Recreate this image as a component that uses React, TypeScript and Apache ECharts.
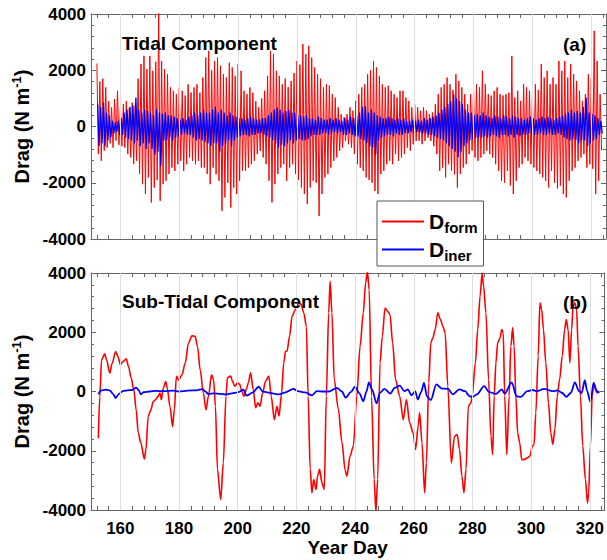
import React, { useEffect, useRef } from "react";
import * as echarts from "echarts";

// ---------- data ----------
const firstTidalDay = 152;
// tidal component: daily positive / negative extremes (N m^-1), days 152..323
const formHigh = [
  2240, 1600, 1700, 1390, 900, 680, 970, 1270, 700, 800,
  900, 650, 850, 750, 1700, 2220, 2510, 2040, 2510, 1980,
  2300, 4100, 2330, 2040, 1860, 1390, 1270, 1150, 1390, 1270,
  1100, 1500, 1210, 1390, 1500, 1200, 1740, 2450, 2690, 2000,
  2330, 2450, 2160, 1860, 1740, 2270, 2100, 1800, 2220, 1980,
  1270, 1150, 1390, 1200, 900, 680, 1000, 1270, 1800, 2690,
  2570, 1980, 1800, 1500, 1700, 1400, 1620, 1900, 2330, 2200,
  2930, 2570, 2870, 2450, 2100, 1860, 1700, 1390, 1500, 1450,
  1150, 1030, 680, 440, 330, 440, 680, 560, 910, 1150,
  1390, 1500, 1860, 2000, 2330, 2100, 1800, 1500, 1390, 1450,
  1270, 1150, 1030, 1270, 1270, 1030, 910, 680, 790, 680,
  560, 680, 560, 440, 500, 790, 1150, 1390, 1500, 1740,
  1500, 1300, 1860, 1620, 1390, 1150, 790, 1150, 1270, 1500,
  1400, 1980, 1500, 1150, 1100, 1270, 1390, 1150, 1100, 1150,
  1200, 2510, 1030, 1270, 910, 1500, 1390, 1270, 1150, 1500,
  1300, 2220, 1740, 1980, 1500, 1740, 1500, 2330, 1980, 2330,
  1740, 2220, 1860, 1620, 1270, 910, 1150, 1860, 1700, 3400,
  2330, 1150,
];
const formLow = [
  -980, -1220, -860, -750, -600, -750, -500, -650, -700, -750,
  -980, -1100, -1340, -1220, -1690, -2050, -2400, -1810, -2700, -2170,
  -1900, -2640, -2050, -1930, -1690, -1460, -1580, -1340, -1220, -1580,
  -1340, -1100, -1220, -1340, -1220, -1460, -1460, -1690, -2050, -1460,
  -1700, -1930, -3000, -2520, -2000, -2880, -2170, -2400, -1930, -1580,
  -1580, -1460, -1340, -1220, -980, -870, -1100, -1340, -1930, -2700,
  -2050, -1690, -1460, -1340, -1930, -1460, -1340, -1690, -1900, -2170,
  -2400, -2760, -2170, -1930, -2000, -3180, -2400, -1810, -1690, -1460,
  -1220, -1100, -860, -750, -510, -630, -750, -980, -1340, -1460,
  -1580, -1810, -1900, -2000, -2290, -2400, -1690, -1580, -1340, -1220,
  -1340, -980, -1220, -1100, -980, -750, -860, -630, -510, -510,
  -630, -510, -400, -510, -700, -980, -1580, -1460, -1810, -1340,
  -1580, -1700, -2170, -1690, -1460, -1340, -980, -860, -1100, -1220,
  -1100, -980, -860, -980, -1100, -1340, -1580, -1930, -2000, -1580,
  -2100, -2400, -1930, -1460, -1340, -1100, -1220, -1340, -1460, -1580,
  -1690, -1810, -1930, -2170, -1580, -2000, -2200, -2100, -2400, -2520,
  -1930, -1580, -1460, -1220, -1100, -980, -1460, -1340, -1500, -2400,
  -1930, -850,
];
const inerHigh = [
  790, 700, 850, 500, 400, 200, 150, 200, 300, 500,
  600, 700, 750, 1030, 600, 500, 600, 550, 500, 400,
  600, 500, 450, 500, 400, 400, 350, 300, 250, 300,
  250, 350, 400, 500, 400, 500, 600, 500, 500, 600,
  700, 500, 600, 500, 400, 500, 400, 350, 300, 300,
  250, 300, 350, 300, 250, 250, 300, 300, 400, 500,
  600, 680, 600, 500, 550, 600, 500, 500, 400, 400,
  350, 400, 300, 300, 250, 350, 300, 250, 250, 300,
  250, 300, 250, 200, 300, 250, 350, 300, 400, 500,
  700, 730, 500, 600, 500, 400, 350, 300, 300, 350,
  300, 250, 300, 250, 300, 200, 200, 250, 200, 250,
  200, 300, 250, 300, 350, 400, 500, 600, 700, 800,
  900, 1150, 1000, 900, 800, 600, 500, 500, 400, 450,
  400, 500, 400, 350, 300, 400, 350, 300, 400, 350,
  300, 400, 350, 300, 300, 250, 300, 350, 300, 250,
  300, 350, 300, 350, 300, 250, 300, 350, 400, 450,
  500, 600, 500, 550, 500, 700, 1030, 500, 450, 400,
  300, 200,
];
const inerLow = [
  -690, -600, -700, -500, -400, -250, -200, -300, -300, -400,
  -450, -500, -600, -500, -700, -600, -800, -600, -800, -1000,
  -900, -1400, -500, -500, -400, -500, -400, -350, -300, -250,
  -300, -300, -400, -500, -450, -500, -550, -600, -700, -600,
  -600, -900, -700, -600, -500, -700, -500, -400, -350, -300,
  -300, -350, -300, -300, -250, -250, -300, -350, -400, -500,
  -600, -750, -650, -700, -600, -500, -600, -500, -450, -500,
  -500, -450, -350, -300, -300, -300, -250, -250, -300, -250,
  -200, -250, -200, -300, -300, -250, -300, -350, -350, -450,
  -500, -600, -700, -750, -1000, -500, -400, -350, -300, -300,
  -350, -250, -300, -300, -250, -250, -200, -250, -200, -200,
  -250, -250, -300, -300, -350, -400, -450, -500, -600, -700,
  -800, -900, -1090, -900, -700, -600, -500, -450, -400, -400,
  -400, -350, -400, -350, -300, -350, -400, -300, -300, -350,
  -300, -400, -300, -350, -300, -300, -250, -300, -300, -300,
  -250, -300, -300, -250, -300, -300, -250, -300, -400, -450,
  -500, -450, -500, -600, -500, -500, -700, -600, -500, -450,
  -300, -250,
];

// sub-tidal component: [year day, drag]
const subForm = [
  [152.5, -1575], [153.0, -170], [153.6, 1070], [154.7, 1270], [155.3, 1070], [156.4, 620],
  [157.2, 950], [158.4, 1350], [159.2, 1180], [160.0, 900], [160.9, 1010], [162.0, 1100],
  [162.8, 840], [163.7, 450], [164.6, 55], [165.4, -620], [166.1, -1400], [167.0, -1740],
  [168.2, -2280], [168.7, -1970], [169.5, -840], [170.4, -620], [171.2, -340], [172.0, -280],
  [172.8, -170], [173.5, -55], [174.0, -280], [174.6, 110], [175.5, 340], [176.0, 110],
  [176.9, -500], [177.8, -1180], [178.4, -620], [179.1, 510], [179.9, 390], [181.0, 560],
  [182.1, 950], [183.2, 1630], [184.4, 1880], [185.5, 1860], [186.3, 1520], [187.2, 730],
  [188.3, -55], [189.2, -620], [190.0, -170], [191.1, 560], [191.8, 390], [192.4, -500],
  [193.1, -2630], [194.2, -3650], [195.1, -2410], [196.0, -160], [196.5, 460], [197.6, 520],
  [198.2, 350], [199.0, 180], [199.9, 290], [200.7, 240], [201.2, 70], [202.1, -160],
  [203.0, 90], [203.6, 290], [204.4, 630], [205.3, 70], [206.1, -550], [206.9, -380],
  [207.6, -500], [208.5, -45], [209.5, 350], [210.6, 520], [211.4, -160], [212.5, -950],
  [213.4, -500], [214.1, -830], [214.9, -100], [215.7, 970], [216.3, 1360], [216.8, 1360],
  [217.7, 1870], [218.5, 2540], [219.7, 2770], [220.8, 2990], [221.6, 2940], [222.5, 2660],
  [223.4, 2200], [224.0, -160], [224.7, -2630], [225.3, -3420], [225.9, -2970], [226.7, -3310],
  [227.2, -2860], [227.9, -2630], [228.7, -3080], [229.5, -3310], [230.2, -160], [231.0, 2660],
  [231.5, 3720], [232.1, 2660], [232.9, 400], [234.3, -600], [235.5, -1700], [236.6, -2650],
  [237.2, -2860], [238.3, -2180], [239.4, -1850], [240.6, -160], [241.7, 1530], [242.8, 2660],
  [243.6, 3670], [244.2, 4050], [244.8, 3440], [245.6, -160], [246.5, -2970], [247.1, -4050],
  [247.7, -2970], [248.5, 970], [249.3, 1870], [250.2, 2820], [251.1, 2710], [251.9, 2600],
  [252.8, 1640], [253.8, 400], [255.2, -160], [256.4, -950], [257.5, -270], [258.6, -1060],
  [259.8, -1400], [260.6, -1960], [261.5, -1170], [262.0, -720], [262.8, -1730], [263.7, -3420],
  [264.3, -2410], [265.1, 290], [265.8, 1640], [266.5, 1810], [267.3, 2090], [268.2, 2660],
  [269.1, 2430], [269.9, 2200], [270.7, 1980], [271.6, 180], [272.8, -2410], [273.9, -1510],
  [274.8, -1450], [275.6, -1960], [276.4, -2860], [277.1, -3420], [277.8, -2630], [278.6, -500],
  [279.5, -380], [279.9, -160], [281.0, 970], [281.8, 2090], [282.6, 3220], [283.3, 4000],
  [283.8, 3550], [284.6, 2660], [285.5, 400], [286.3, -1510], [286.9, -2130], [287.4, -160],
  [288.0, 970], [288.6, 1640], [289.4, 1810], [290.0, 2090], [290.5, 1980], [291.0, -160],
  [291.7, -2130], [292.5, -160], [293.1, 1530], [293.7, 2150], [294.2, 1530], [294.8, -160],
  [295.4, -1400], [296.1, -1730], [296.8, -2300], [297.6, -2300], [298.7, -2240], [299.6, -2180],
  [300.4, -1850], [301.0, -1790], [301.6, -720], [302.4, 1190], [303.0, 2990], [303.6, 2770],
  [304.2, 2090], [305.0, 970], [305.9, -380], [306.7, -1400], [307.4, -1790], [308.1, -1280],
  [308.9, -160], [309.7, 400], [310.6, 1190], [311.4, 2090], [312.0, 2430], [312.6, 2090],
  [313.2, 970], [313.8, 2090], [314.3, 2880], [314.9, 2990], [315.5, 2770], [316.0, 1530],
  [316.8, -160], [317.6, -1850], [318.5, -2970], [319.2, -3760], [319.6, -3420], [320.2, -1850],
  [320.8, -160], [321.3, 290], [321.9, 70], [322.5, -45], [323.0, 10],
];
const subIner = [
  [152.5, -90], [153.5, 40], [155, 60], [156.5, 30], [157.5, -80], [158.4, -220], [159.5, -80],
  [161, 20], [162.5, 40], [164, 50], [165.4, 130], [166.2, 50], [167, -100], [168, -20],
  [170, 0], [172, 20], [175, 10], [178, 30], [180, 0], [183, 30], [186, 40], [188, 80],
  [189, 0], [190, -90], [192, -60], [194, -80], [196, -100], [198, -60], [200, -30],
  [202, 60], [203, -140], [205, -40], [207.2, 160], [208.5, 0], [210, -30], [212.3, -70],
  [214, -100], [216, -40], [219, 90], [220.5, 10], [223, -30], [225.3, -130], [227, 10],
  [229, 0], [231, 0], [233.8, 120], [235.5, 0], [236.8, -210], [238.5, -20], [240, 160],
  [241.5, -60], [242.8, -330], [243.9, 0], [244.7, 310], [245.8, 70], [247.3, -400],
  [248.5, -40], [250, 90], [252, -70], [253.5, 120], [255.2, 200], [256.8, 10], [258, 70],
  [259.2, -130], [260.5, 10], [261.4, -270], [262.5, -20], [263.5, 290], [264.5, -170],
  [265.8, -290], [267.7, 240], [269.5, 100], [271.7, 90], [273.3, -100], [275.5, 70],
  [277.5, 10], [279, -160], [280.1, -180], [281.5, -100], [284, 180], [285.7, -20],
  [288, -80], [290, 70], [291, -70], [293.4, 310], [295, -160], [296.5, -180], [298.7, 10],
  [300.4, 50], [302, 10], [304.4, 90], [307.3, 10], [309, 40], [310.6, -50], [312, -180],
  [313.5, -50], [314.9, 310], [316.3, 10], [317.2, -50], [318.3, 380], [319.1, 10],
  [320.2, -360], [321.3, 290], [322.4, 10], [323.2, -50],
];

const tickDays = [152, 156, 160, 164, 168, 172, 176, 180, 184, 188, 192, 196, 200, 204, 208, 212, 216, 220, 224, 228, 232, 236, 240, 244, 248, 252, 256, 260, 264, 268, 272, 276, 280, 284, 288, 292, 296, 300, 304, 308, 312, 316, 320, 324];
const labelDays = [160, 180, 200, 220, 240, 260, 280, 300, 320];
const gridDays = [160, 180, 200, 220, 240, 260, 280, 300, 320];

const FONT = '"Liberation Sans", Arial, Helvetica, sans-serif';
const RED = "#ff0000";
const BLUE = "#0000ff";

function interleave(high: number[], low: number[], offset: number) {
  const out: number[][] = [];
  high.forEach((h, i) => {
    const d = firstTidalDay + i;
    out.push([d + offset, h]);
    out.push([d + offset + 0.5, low[i]]);
  });
  return out;
}

export default function App() {
  const ref = useRef<HTMLDivElement>(null);
  useEffect(() => {
    if (!ref.current) return;
    const chart = echarts.init(ref.current, null, { renderer: "svg" });
    const axisColor = "#666";
    const xAxisBase = (gridIndex: number, position: string, showLabel: boolean) => ({
      type: "value",
      gridIndex,
      position,
      min: 150,
      max: 325,
      axisLine: { show: true, onZero: false, lineStyle: { color: axisColor, width: 1 } },
      axisTick: { show: true, inside: true, length: 4, customValues: tickDays, lineStyle: { color: axisColor } },
      axisLabel: showLabel
        ? { show: true, customValues: labelDays, fontSize: 17, fontWeight: "bold", fontFamily: FONT, color: "#000", margin: 10 }
        : { show: false },
      splitLine: { show: false },
    });
    const yAxisBase = (gridIndex: number, position: string, showLabel: boolean) => ({
      type: "value",
      gridIndex,
      position,
      min: -4000,
      max: 4000,
      interval: 2000,
      axisLine: { show: true, onZero: false, lineStyle: { color: axisColor, width: 1 } },
      axisTick: { show: true, inside: true, length: 5, lineStyle: { color: axisColor } },
      minorTick: { show: true, splitNumber: 5, length: 3, lineStyle: { color: axisColor } },
      axisLabel: showLabel
        ? { show: true, fontSize: 17, fontWeight: "bold", fontFamily: FONT, color: "#000", margin: 5, formatter: (v: number) => String(v) }
        : { show: false },
      splitLine: { show: false },
      name: showLabel ? "{n|Drag (N m}{s|-1}{n|)}" : "",
      nameLocation: "middle",
      nameGap: 56,
      nameRotate: 90,
      nameTextStyle: {
        rich: {
          n: { fontSize: 20, fontWeight: "bold", fontFamily: FONT, color: "#000" },
          s: { fontSize: 13, fontWeight: "bold", fontFamily: FONT, color: "#000", padding: [0, 0, 10, 0] },
        },
      },
    });
    const xAxis: any[] = [
      xAxisBase(0, "bottom", false),
      xAxisBase(0, "top", false),
      {
        ...xAxisBase(1, "bottom", true),
        name: "Year Day",
        nameLocation: "middle",
        nameGap: 28,
        nameTextStyle: { fontSize: 19, fontWeight: "bold", fontFamily: FONT, color: "#000" },
      },
      xAxisBase(1, "top", false),
    ];
    const yAxis: any[] = [
      yAxisBase(0, "left", true),
      yAxisBase(0, "right", false),
      yAxisBase(1, "left", true),
      yAxisBase(1, "right", false),
    ];
    const gridLineSeries = (xi: number, yi: number) => ({
      type: "line",
      name: "grid" + xi,
      xAxisIndex: xi,
      yAxisIndex: yi,
      data: [],
      silent: true,
      z: 1,
      markLine: {
        silent: true,
        symbol: "none",
        label: { show: false },
        lineStyle: { color: "#dedede", type: "solid", width: 1 },
        data: gridDays.map((d) => ({ xAxis: d })),
      },
    });
    const option: any = {
      animation: false,
      backgroundColor: "#fff",
      grid: [
        { left: 91, top: 14, width: 515, height: 225 },
        { left: 91, top: 273, width: 515, height: 237 },
      ],
      xAxis,
      yAxis,
      legend: {
        data: ["Dform", "Diner"],
        orient: "vertical",
        left: 377,
        top: 201,
        width: 106,
        backgroundColor: "#fff",
        borderColor: "#555",
        borderWidth: 1,
        borderRadius: 0,
        padding: [10, 6, 3, 5],
        itemGap: 4,
        itemWidth: 42,
        itemHeight: 2,
        icon: "rect",
        z: 20,
        selectedMode: false,
        formatter: (n: string) => (n === "Dform" ? "{d|D}{s|form}" : "{d|D}{s|iner}"),
        textStyle: {
          rich: {
            d: { fontSize: 21, fontWeight: "bold", fontFamily: FONT, color: "#000" },
            s: { fontSize: 15, fontWeight: "bold", fontFamily: FONT, color: "#000", padding: [12, 0, 0, 0] },
          },
        },
      },
      graphic: [
        { type: "text", x: 122, y: 43, z: 10, style: { text: "Tidal Component", fill: "#000", font: `bold 19px ${FONT}`, verticalAlign: "middle" } },
        { type: "text", x: 563, y: 44, z: 10, style: { text: "(a)", fill: "#000", font: `bold 19px ${FONT}`, verticalAlign: "middle" } },
        { type: "text", x: 122, y: 301, z: 10, style: { text: "Sub-Tidal Component", fill: "#000", font: `bold 19px ${FONT}`, verticalAlign: "middle" } },
        { type: "text", x: 563, y: 302, z: 10, style: { text: "(b)", fill: "#000", font: `bold 19px ${FONT}`, verticalAlign: "middle" } },
      ],
      series: [
        gridLineSeries(0, 0),
        gridLineSeries(2, 2),
        {
          type: "line",
          name: "Dform",
          xAxisIndex: 0,
          yAxisIndex: 0,
          data: interleave(formHigh, formLow, 0),
          symbol: "none",
          lineStyle: { color: RED, width: 1 },
          itemStyle: { color: RED },
          z: 2,
        },
        {
          type: "line",
          name: "Diner",
          xAxisIndex: 0,
          yAxisIndex: 0,
          data: interleave(inerHigh, inerLow, 0.25),
          symbol: "none",
          lineStyle: { color: BLUE, width: 1.3 },
          itemStyle: { color: BLUE },
          z: 3,
        },
        {
          type: "line",
          name: "Dform",
          xAxisIndex: 2,
          yAxisIndex: 2,
          data: subForm,
          symbol: "none",
          smooth: 0.3,
          smoothMonotone: "x",
          lineStyle: { color: RED, width: 1.6 },
          itemStyle: { color: RED },
          z: 2,
        },
        {
          type: "line",
          name: "Diner",
          xAxisIndex: 2,
          yAxisIndex: 2,
          data: subIner,
          symbol: "none",
          smooth: 0.3,
          smoothMonotone: "x",
          lineStyle: { color: BLUE, width: 1.8 },
          itemStyle: { color: BLUE },
          z: 3,
        },
      ],
    };
    chart.setOption(option);
    return () => chart.dispose();
  }, []);
  return (
    <div
      ref={ref}
      style={{ position: "fixed", left: 0, top: 0, width: 607, height: 560, background: "#fff" }}
    />
  );
}
